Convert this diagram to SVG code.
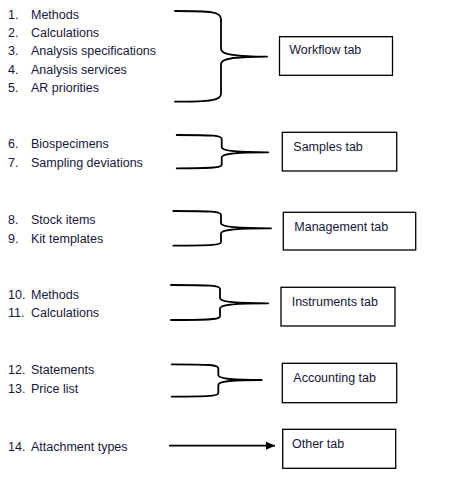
<svg xmlns="http://www.w3.org/2000/svg" width="466" height="488" viewBox="0 0 466 488">
<style>
text{font-family:"Liberation Sans",Arial,sans-serif;font-size:12.5px;fill:#16163a}
.box{fill:#fff;stroke:#000;stroke-width:1.3}
.brace{fill:none;stroke:#000;stroke-width:1.8;stroke-linecap:round}
</style>
<defs>
<marker id="ah" markerWidth="10" markerHeight="8" refX="9" refY="4" orient="auto" markerUnits="userSpaceOnUse">
<path d="M0,0 L9,4 L0,8 Z" fill="#000"/>
</marker>
</defs>
<rect width="466" height="488" fill="#fff"/>
<g id="list">
<text x="8" y="19">1.</text><text x="31" y="19">Methods</text>
<text x="8" y="37.2">2.</text><text x="31" y="37.2">Calculations</text>
<text x="8" y="55.4">3.</text><text x="31" y="55.4">Analysis specifications</text>
<text x="8" y="73.5">4.</text><text x="31" y="73.5">Analysis services</text>
<text x="8" y="91.7">5.</text><text x="31" y="91.7">AR priorities</text>
<text x="8" y="148.3">6.</text><text x="31" y="148.3">Biospecimens</text>
<text x="8" y="166.7">7.</text><text x="31" y="166.7">Sampling deviations</text>
<text x="8" y="224.3">8.</text><text x="31" y="224.3">Stock items</text>
<text x="8" y="242.7">9.</text><text x="31" y="242.7">Kit templates</text>
<text x="8" y="299">10.</text><text x="31" y="299">Methods</text>
<text x="8" y="317.3">11.</text><text x="31" y="317.3">Calculations</text>
<text x="8" y="374.3">12.</text><text x="31" y="374.3">Statements</text>
<text x="8" y="392.7">13.</text><text x="31" y="392.7">Price list</text>
<text x="8" y="450.7">14.</text><text x="31" y="450.7">Attachment types</text>
</g>
<g id="connectors">
<path class="brace" d="M175,11 C212,11 221,12 221,19 L221,49 C221,54 232,56.7 267,56.7 M267,56.7 C232,56.7 221,59 221,64 L221,94 C221,100 212,101.7 175,101.7"/>
<path class="brace" d="M176.7,135 C214,135 221.7,135.5 221.7,139 L221.7,147 C221.7,150.5 232,152.3 268.3,152.3 M268.3,152.3 C232,152.3 221.7,154 221.7,157.5 L221.7,165 C221.7,167.5 214,168.3 176.7,168.3"/>
<path class="brace" d="M173.3,211 C213,211 221,211.5 221,215 L221,223 C221,226.5 232,228.3 271,228.3 M271,228.3 C232,228.3 221,230 221,233.5 L221,242 C221,245 213,245.7 173.3,245.7"/>
<path class="brace" d="M171,285 C212,285 220,285.5 220,289 L220,298 C220,301.5 231,303.3 268.3,303.3 M268.3,303.3 C231,303.3 220,305 220,308.5 L220,316.5 C220,319.3 212,320 171,320"/>
<path class="brace" d="M171.7,364.3 C210,364.3 218.3,364.8 218.3,368.3 L218.3,375 C218.3,378.3 229,380 261.7,380 M261.7,380 C229,380 218.3,381.7 218.3,385 L218.3,393 C218.3,396 210,396.7 171.7,396.7"/>
<line x1="169" y1="445.7" x2="275" y2="445.7" stroke="#000" stroke-width="1.8" marker-end="url(#ah)"/>
</g>
<g id="workflow"><rect class="box" x="279.5" y="36.7" width="113" height="38.6"/><text x="289.3" y="54.3">Workflow tab</text></g>
<g id="samples"><rect class="box" x="282.3" y="132.3" width="114.4" height="38.7"/><text x="293.3" y="151">Samples tab</text></g>
<g id="management"><rect class="box" x="283.3" y="212.3" width="132.4" height="37.7"/><text x="294.3" y="231">Management tab</text></g>
<g id="instruments"><rect class="box" x="281" y="287.3" width="114" height="38.7"/><text x="291.7" y="306">Instruments tab</text></g>
<g id="accounting"><rect class="box" x="282.3" y="363.3" width="114.4" height="39.4"/><text x="293.3" y="382">Accounting tab</text></g>
<g id="other"><rect class="box" x="282.7" y="429.3" width="113" height="39"/><text x="292" y="447.7">Other tab</text></g>
</svg>
